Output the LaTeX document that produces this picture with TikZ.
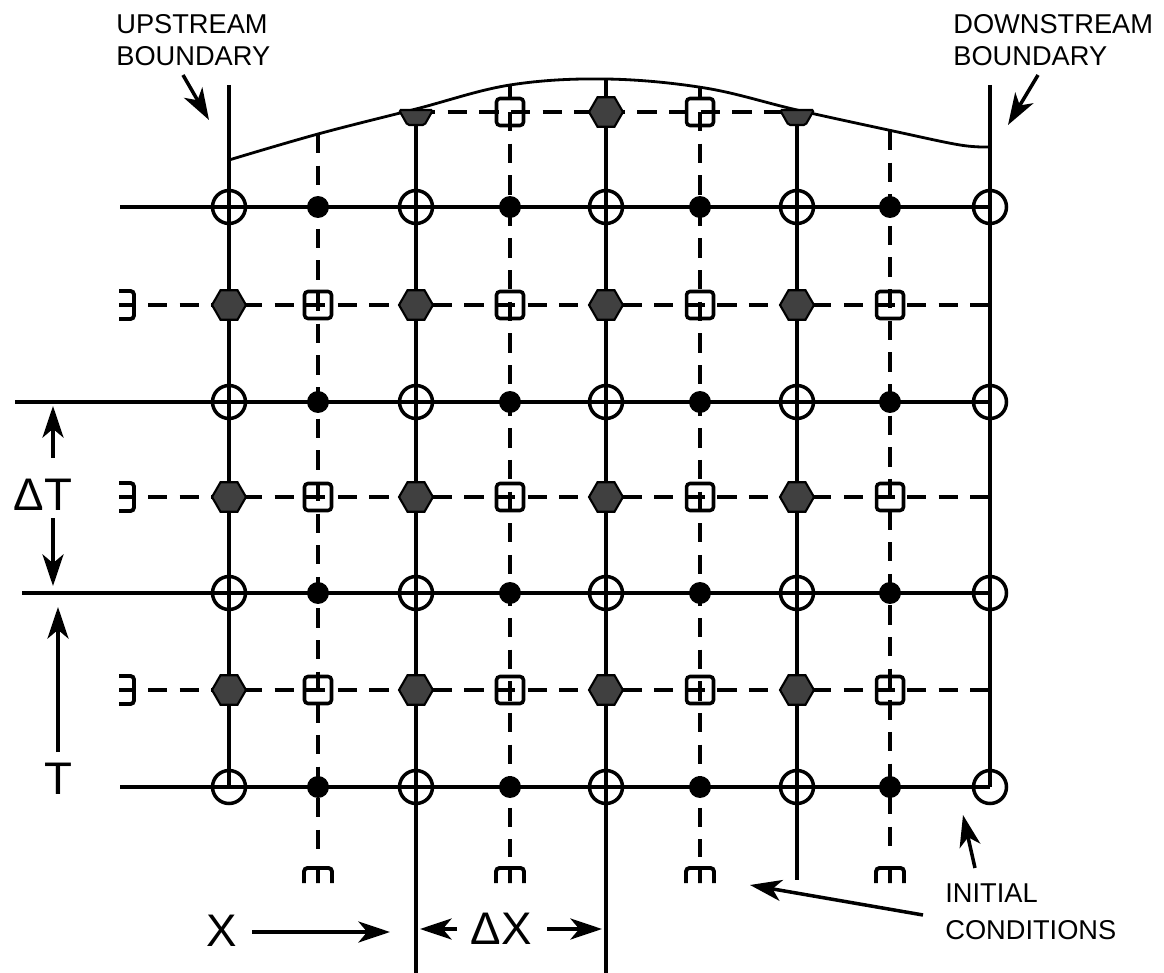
\documentclass[tikz,border=0pt]{standalone}
\usepackage{fontspec}
\setmainfont{Liberation Sans}
\usepackage{tikz}
\usetikzlibrary{
  arrows.meta,
  positioning,
  shapes.geometric
}
\tikzset{
  gridline/.style={line width=2pt, black},
  griddash/.style={line width=2pt, black, dash pattern=on 11pt off 7pt},
  freesurf/.style={line width=1.6pt, black},
  openpt/.style={circle, draw, line width=2pt, minimum size=0.66cm, inner sep=0pt},
  dotpt/.style={circle, fill=black, minimum size=0.44cm, inner sep=0pt},
  hexpt/.style={regular polygon, regular polygon sides=6, draw=black, fill=black!75,
    line width=1.2pt, minimum size=0.68cm, inner sep=0pt},
  sqpt/.style={rectangle, draw, line width=2pt, rounded corners=2pt,
    minimum size=0.54cm, inner sep=0pt},
  ptr/.style={-{Stealth[length=18pt, width=12pt, inset=5pt]}, line width=2pt},
  lbl/.style={font=\fontsize{15.5}{18}\selectfont, align=left, anchor=west, inner sep=0pt},
  biglbl/.style={font=\fontsize{26}{30}\selectfont, inner sep=0pt},
  endcomb/.pic={
    \draw[line width=2.2pt, rounded corners=2pt]
      (-14,15) -- (-14,0) -- (14,0) -- (14,15) (0,0) -- (0,15);
  }
}

\begin{document}
\begin{tikzpicture}[x=0.02cm, y=-0.02cm]
  \useasboundingbox (0,0) rectangle (1164,973);

  % free surface
  \draw[freesurf] plot[smooth, tension=0.6] coordinates
    {(229,160) (318,134) (416,109) (510,85) (606,79) (705,88) (797,110) (893,131) (960,145) (990,147)};

  % solid grid
  \draw[gridline] (120,207) -- (990,207);
  \draw[gridline] (15,402) -- (990,402);
  \draw[gridline] (22,593) -- (990,593);
  \draw[gridline] (120,787) -- (990,787);
  \draw[gridline] (229,85) -- (229,787);
  \draw[gridline] (990,85) -- (990,787);
  \draw[gridline] (416,110) -- (416,973);
  \draw[gridline] (606,79) -- (606,973);
  \draw[gridline] (797,110) -- (797,880);
  \draw[gridline] (510,85) -- (510,100);
  \draw[gridline] (700,87) -- (700,100);

  % dashed grid
  \foreach \y in {305,497,690}
    \draw[griddash] (148,\y) -- (990,\y);
  \draw[griddash] (416,112) -- (797,112);
  \draw[griddash] (318,134) -- (318,857);
  \draw[griddash] (510,112) -- (510,857);
  \draw[griddash] (700,112) -- (700,857);
  \draw[griddash] (890,131) -- (890,857);

  % points
  \foreach \y in {207,402,593,787} {
    \foreach \x in {229,416,606,797,990}
      \node[openpt] (o-\x-\y) at (\x,\y) {};
    \foreach \x in {318,510,700,890}
      \node[dotpt] (d-\x-\y) at (\x,\y) {};
  }
  \foreach \y in {305,497,690} {
    \foreach \x in {229,416,606,797}
      \node[hexpt] (h-\x-\y) at (\x,\y) {};
    \foreach \x in {318,510,700,890}
      \node[sqpt] (s-\x-\y) at (\x,\y) {};
  }
  \node[hexpt] (h-606-112) at (606,112) {};
  \node[sqpt] (s-510-112) at (510,112) {};
  \node[sqpt] (s-700-112) at (700,112) {};
  \foreach \x in {416,797}
    \filldraw[fill=black!75, line width=1.2pt, rounded corners=1pt]
      ({\x-17},110) -- ({\x-8.5},125) -- ({\x+8.5},125) -- ({\x+17},110) -- cycle;

  % initial and boundary ends
  \foreach \x in {318,510,700,890}
    \pic at (\x,868) {endcomb};
  \foreach \y in {305,497,690}
    \pic[rotate=-90] at (134,\y) {endcomb};

  % labels
  \node[lbl] (upst) at (116,40) {UPSTREAM\\BOUNDARY};
  \node[lbl] (dnst) at (953,40) {DOWNSTREAM\\BOUNDARY};
  \node[lbl, font=\fontsize{15.5}{21}\selectfont] (init) at (945,912) {INITIAL\\CONDITIONS};
  \node[biglbl] (dt) at (43,495) {ΔT};
  \node[biglbl] (tt) at (58,779) {T};
  \node[biglbl] (xx) at (222,931) {X};
  \node[biglbl] (dx) at (501,929) {ΔX};

  \coordinate (upTail) at (183,75);
  \coordinate (upTip) at (209,120);
  \coordinate (dnTail) at (1038,75);
  \coordinate (dnTip) at (1008,125);
  \coordinate (icTipA) at (750,885);
  \coordinate (icTailA) at (923,915);
  \coordinate (icTipB) at (963,815);
  \coordinate (icTailB) at (975,868);
  \coordinate (dtTipA) at (53,406);
  \coordinate (dtTailA) at (53,458);
  \coordinate (dtTipB) at (53,586);
  \coordinate (dtTailB) at (53,518);
  \coordinate (tTip) at (58,607);
  \coordinate (tTail) at (58,752);
  \coordinate (xTail) at (252,932);
  \coordinate (xTip) at (390,932);
  \coordinate (dxTipA) at (420,929);
  \coordinate (dxTailA) at (457,929);
  \coordinate (dxTailB) at (547,929);
  \coordinate (dxTipB) at (602,929);

  \draw[ptr] (upTail) -- (upTip);
  \draw[ptr] (dnTail) -- (dnTip);
  \draw[ptr] (icTailA) -- (icTipA);
  \draw[ptr] (icTailB) -- (icTipB);
  \draw[ptr] (dtTailA) -- (dtTipA);
  \draw[ptr] (dtTailB) -- (dtTipB);
  \draw[ptr] (tTail) -- (tTip);
  \draw[ptr] (xTail) -- (xTip);
  \draw[ptr] (dxTailA) -- (dxTipA);
  \draw[ptr] (dxTailB) -- (dxTipB);
\end{tikzpicture}
\end{document}
